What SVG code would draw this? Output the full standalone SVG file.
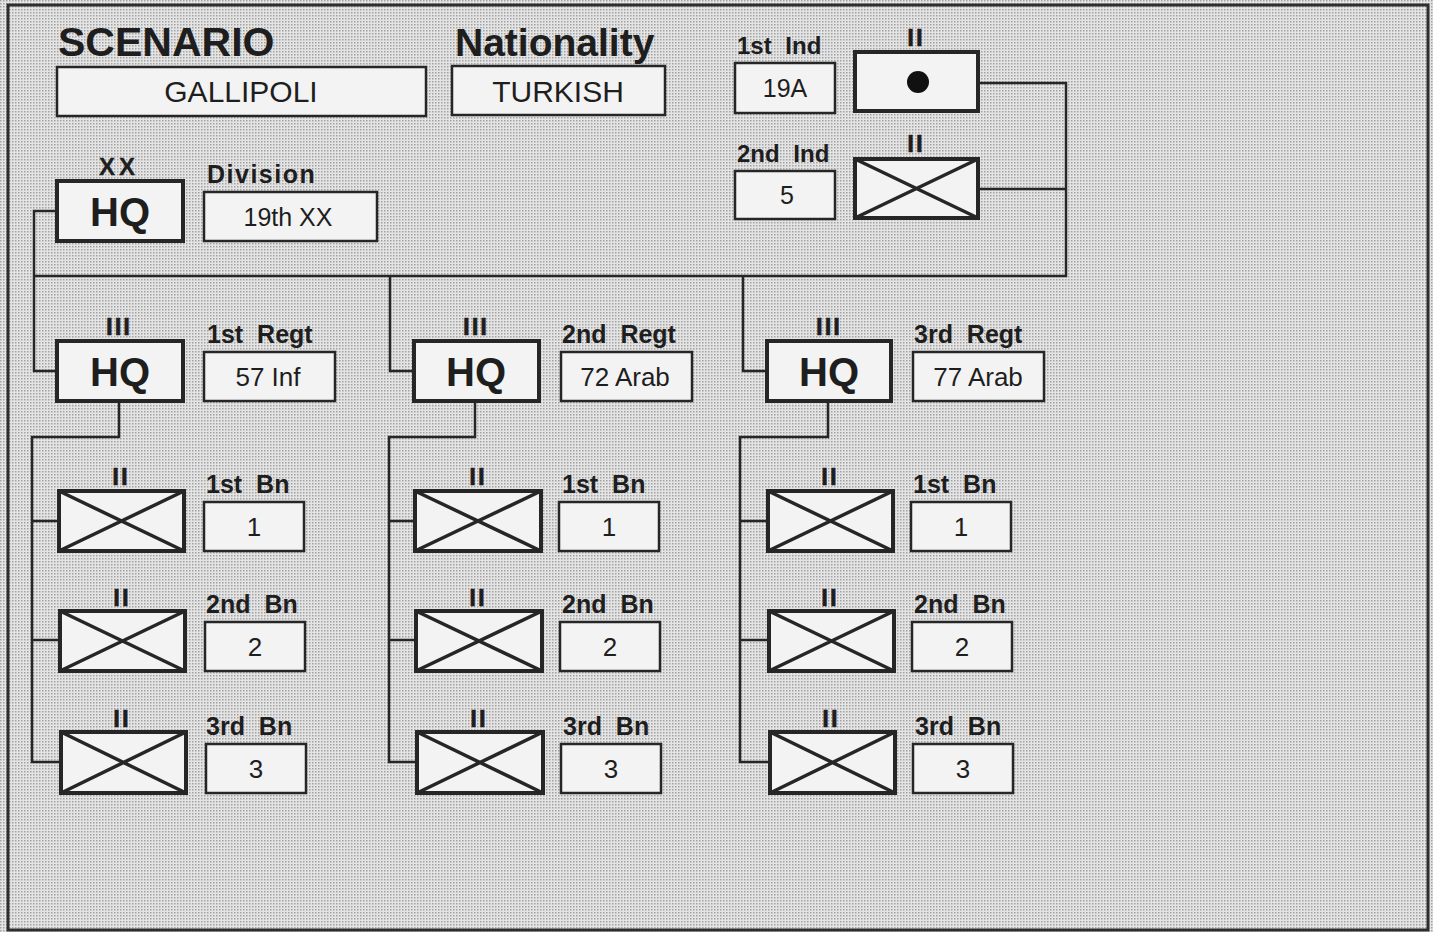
<svg xmlns="http://www.w3.org/2000/svg" width="1433" height="932" viewBox="0 0 1433 932">
<style>
.val{fill:#f3f3f3;stroke:#262626;stroke-width:2.5}
.unit{fill:#f3f3f3;stroke:#262626;stroke-width:4}
.x{stroke:#262626;stroke-width:3.5;fill:none}
.conn{stroke:#262626;stroke-width:2.5;fill:none}
text{font-family:"Liberation Sans",Arial,Helvetica,sans-serif;fill:#1e1e1e}
.lbl{font-weight:bold;font-size:25px;word-spacing:7px}
.sym{font-weight:bold;font-size:24px;text-anchor:middle;letter-spacing:2px;stroke:#1e1e1e;stroke-width:0.6}
.v{font-size:26px;text-anchor:middle}
.hq{font-weight:bold;font-size:40px;text-anchor:middle}
.big{font-weight:bold;font-size:41px}
</style>
<defs>
<pattern id="dots" width="3" height="3" patternUnits="userSpaceOnUse">
<rect width="3" height="3" fill="#e4e4e4"/>
<rect width="1.5" height="1.5" fill="#a2a2a2"/>
</pattern>
</defs>
<rect width="1433" height="932" fill="url(#dots)"/>
<rect x="8" y="5" width="1420" height="925" fill="none" stroke="#2e2e2e" stroke-width="3"/>

<g id="connectors">
<path class="conn" d="M978,83 H1066 V276 H34 M978,189 H1066"/>
<path class="conn" d="M57,211 H34 V371 H57"/>
<path class="conn" d="M390,276 V371 H414"/>
<path class="conn" d="M743,276 V371 H767"/>
<path class="conn" d="M119,401 V437 H32 V762 H60 M32,521 H59 M32,640 H59"/>
<path class="conn" d="M475,401 V437 H389 V762 H416 M389,521 H415 M389,640 H415"/>
<path class="conn" d="M828,401 V437 H740 V762 H769 M740,521 H768 M740,640 H768"/>
</g>

<g id="scenario">
<text class="big" x="58" y="56">SCENARIO</text>
<rect class="val" x="57" y="67" width="369" height="49"/>
<text class="v" x="241" y="102" style="font-size:30px">GALLIPOLI</text>
</g>

<g id="nationality">
<text class="big" x="455" y="56" style="font-size:39px">Nationality</text>
<rect class="val" x="452" y="66" width="213" height="49"/>
<text class="v" x="558" y="102" style="font-size:30px">TURKISH</text>
</g>

<g id="ind1">
<text class="lbl" x="737" y="54" style="font-size:24px">1st Ind</text>
<rect class="val" x="735" y="63" width="100" height="50"/>
<text class="v" x="785" y="97" style="font-size:25px">19A</text>
<text class="sym" x="916" y="46">II</text>
<rect class="unit" x="855" y="52" width="123" height="59"/>
<circle cx="918" cy="82" r="11" fill="#111"/>
</g>

<g id="ind2">
<text class="lbl" x="737" y="162" style="font-size:24px">2nd Ind</text>
<rect class="val" x="735" y="171" width="100" height="48"/>
<text class="v" x="787" y="204" style="font-size:25px">5</text>
<text class="sym" x="916" y="152">II</text>
<rect class="unit" x="855" y="159" width="123" height="59"/>
<path class="x" d="M855,159 L978,218 M978,159 L855,218"/>
</g>

<g id="division">
<text class="sym" x="119" y="175" style="letter-spacing:4px;stroke-width:0.3">XX</text>
<rect class="unit" x="57" y="181" width="126" height="60"/>
<text class="hq" x="120" y="226">HQ</text>
<text class="lbl" x="207" y="183" style="letter-spacing:1.5px">Division</text>
<rect class="val" x="204" y="192" width="173" height="49"/>
<text class="v" x="288" y="226" style="font-size:25px">19th XX</text>
</g>

<g id="regt1">
<text class="sym" x="119" y="335">III</text>
<rect class="unit" x="57" y="341" width="126" height="60"/>
<text class="hq" x="120" y="386">HQ</text>
<text class="lbl" x="207" y="343">1st Regt</text>
<rect class="val" x="204" y="352" width="131" height="49"/>
<text class="v" x="268" y="386">57 Inf</text>
</g>

<g id="regt2">
<text class="sym" x="476" y="335">III</text>
<rect class="unit" x="414" y="341" width="125" height="60"/>
<text class="hq" x="476" y="386">HQ</text>
<text class="lbl" x="562" y="343">2nd Regt</text>
<rect class="val" x="561" y="352" width="131" height="49"/>
<text class="v" x="625" y="386">72 Arab</text>
</g>

<g id="regt3">
<text class="sym" x="829" y="335">III</text>
<rect class="unit" x="767" y="341" width="124" height="60"/>
<text class="hq" x="829" y="386">HQ</text>
<text class="lbl" x="914" y="343">3rd Regt</text>
<rect class="val" x="913" y="352" width="131" height="49"/>
<text class="v" x="978" y="386">77 Arab</text>
</g>

<g id="r1b1">
<text class="sym" x="121" y="485">II</text>
<rect class="unit" x="59" y="491" width="125" height="60"/>
<path class="x" d="M59,491 L184,551 M184,491 L59,551"/>
<text class="lbl" x="206" y="493">1st Bn</text>
<rect class="val" x="204" y="502" width="100" height="49"/>
<text class="v" x="254" y="536">1</text>
</g>
<g id="r1b2">
<text class="sym" x="122" y="606">II</text>
<rect class="unit" x="60" y="611" width="125" height="60"/>
<path class="x" d="M60,611 L185,671 M185,611 L60,671"/>
<text class="lbl" x="206" y="613">2nd Bn</text>
<rect class="val" x="205" y="622" width="100" height="49"/>
<text class="v" x="255" y="656">2</text>
</g>
<g id="r1b3">
<text class="sym" x="122" y="727">II</text>
<rect class="unit" x="61" y="732" width="125" height="61"/>
<path class="x" d="M61,732 L186,793 M186,732 L61,793"/>
<text class="lbl" x="206" y="735">3rd Bn</text>
<rect class="val" x="206" y="744" width="100" height="49"/>
<text class="v" x="256" y="778">3</text>
</g>

<g id="r2b1">
<text class="sym" x="478" y="485">II</text>
<rect class="unit" x="415" y="491" width="126" height="60"/>
<path class="x" d="M415,491 L541,551 M541,491 L415,551"/>
<text class="lbl" x="562" y="493">1st Bn</text>
<rect class="val" x="559" y="502" width="100" height="49"/>
<text class="v" x="609" y="536">1</text>
</g>
<g id="r2b2">
<text class="sym" x="478" y="606">II</text>
<rect class="unit" x="416" y="611" width="126" height="60"/>
<path class="x" d="M416,611 L542,671 M542,611 L416,671"/>
<text class="lbl" x="562" y="613">2nd Bn</text>
<rect class="val" x="560" y="622" width="100" height="49"/>
<text class="v" x="610" y="656">2</text>
</g>
<g id="r2b3">
<text class="sym" x="479" y="727">II</text>
<rect class="unit" x="417" y="732" width="126" height="61"/>
<path class="x" d="M417,732 L543,793 M543,732 L417,793"/>
<text class="lbl" x="563" y="735">3rd Bn</text>
<rect class="val" x="561" y="744" width="100" height="49"/>
<text class="v" x="611" y="778">3</text>
</g>

<g id="r3b1">
<text class="sym" x="830" y="485">II</text>
<rect class="unit" x="768" y="491" width="125" height="60"/>
<path class="x" d="M768,491 L893,551 M893,491 L768,551"/>
<text class="lbl" x="913" y="493">1st Bn</text>
<rect class="val" x="911" y="502" width="100" height="49"/>
<text class="v" x="961" y="536">1</text>
</g>
<g id="r3b2">
<text class="sym" x="830" y="606">II</text>
<rect class="unit" x="769" y="611" width="125" height="60"/>
<path class="x" d="M769,611 L894,671 M894,611 L769,671"/>
<text class="lbl" x="914" y="613">2nd Bn</text>
<rect class="val" x="912" y="622" width="100" height="49"/>
<text class="v" x="962" y="656">2</text>
</g>
<g id="r3b3">
<text class="sym" x="831" y="727">II</text>
<rect class="unit" x="770" y="732" width="125" height="61"/>
<path class="x" d="M770,732 L895,793 M895,732 L770,793"/>
<text class="lbl" x="915" y="735">3rd Bn</text>
<rect class="val" x="913" y="744" width="100" height="49"/>
<text class="v" x="963" y="778">3</text>
</g>
</svg>
